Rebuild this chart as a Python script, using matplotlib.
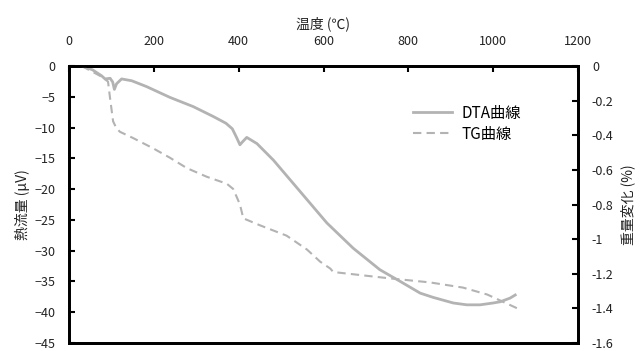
import matplotlib.pyplot as plt
import numpy as np

plt.rcParams['font.family'] = ['Noto Sans CJK JP', 'DejaVu Sans']

# DTA curve: temperature (C), heat flow (uV)
dta_t = [30, 55, 77, 85, 97, 103, 107, 112, 124, 148, 183, 238, 293, 340, 370, 385,
         395, 403, 408, 419, 443, 482, 545, 608, 670, 733, 781, 828, 859, 906, 938, 969,
         1000, 1017, 1040, 1052]
dta_v = [0, -0.6, -1.6, -2.1, -2.0, -2.6, -3.8, -2.9, -2.1, -2.4, -3.35, -5.1, -6.6,
         -8.2, -9.3, -10.2, -11.6, -12.8, -12.4, -11.6, -12.6, -15.3, -20.4, -25.5, -29.6,
         -33.1, -35.0, -36.9, -37.6, -38.5, -38.8, -38.8, -38.5, -38.3, -37.7, -37.2]

# TG curve: temperature (C), weight change (%)
tg_t = [30, 77, 92, 97, 104, 112, 120, 151, 198, 238, 278, 325, 372, 387, 396,
        403, 411, 450, 513, 561, 592, 616, 623, 750, 851, 929, 986, 1057]
tg_v = [0, -0.062, -0.09, -0.19, -0.32, -0.36, -0.38, -0.416, -0.475, -0.53, -0.59,
        -0.64, -0.68, -0.71, -0.76, -0.80, -0.88, -0.92, -0.98, -1.06, -1.13, -1.17,
        -1.19, -1.225, -1.25, -1.28, -1.32, -1.40]

x_ticks = [0, 200, 400, 600, 800, 1000, 1200]
left_ticks = [0, -5, -10, -15, -20, -25, -30, -35, -40, -45]
right_ticks = [0, -0.2, -0.4, -0.6, -0.8, -1, -1.2, -1.4, -1.6]
right_labels = ['0', '-0.2', '-0.4', '-0.6', '-0.8', '-1', '-1.2', '-1.4', '-1.6']

fig = plt.figure(figsize=(6.43, 3.51), dpi=100)
ax = fig.add_axes([69/643, 1 - 343/351, (578-69)/643, (343-66)/351])
ax2 = ax.twinx()

l1, = ax.plot(dta_t, dta_v, color='#b3b3b3', lw=2.0, label='DTA曲線')
l2, = ax2.plot(tg_t, tg_v, color='#b3b3b3', lw=1.5, ls=(0, (4, 2.5)), label='TG曲線')

ax.set_xlim(0, 1200)
ax.set_ylim(-45, 0)
ax2.set_ylim(-1.6, 0)
ax.set_xticks(x_ticks)
ax.set_yticks(left_ticks)
ax2.set_yticks(right_ticks)
ax2.set_yticklabels(right_labels)

ax.xaxis.tick_top()
ax.xaxis.set_label_position('top')
ax.tick_params(axis='x', direction='in', length=4, width=1.5, labelsize=9,
               pad=13, colors='black', labelcolor='#222222')
ax.tick_params(axis='y', direction='in', length=4, width=1.5, labelsize=9,
               pad=10, labelcolor='#222222')
ax2.tick_params(axis='y', direction='in', length=4, width=1.5, labelsize=9,
                pad=10, labelcolor='#222222')

for a in (ax, ax2):
    for s in a.spines.values():
        s.set_linewidth(2)
        s.set_color('black')

ax.set_xlabel('温度 (℃)', fontsize=10, labelpad=5, color='#222222')
ax.set_ylabel('熱流量 (μV)', fontsize=10, labelpad=3, color='#222222')
ax2.set_ylabel('重量変化 (%)', fontsize=10, labelpad=5, color='#222222')

ax.legend(handles=[l1, l2], loc='upper right', bbox_to_anchor=(0.915, 0.91),
          frameon=False, fontsize=11, handlelength=2.6, labelspacing=0.25,
          handletextpad=0.6)

fig.savefig('out.png', dpi=100)
